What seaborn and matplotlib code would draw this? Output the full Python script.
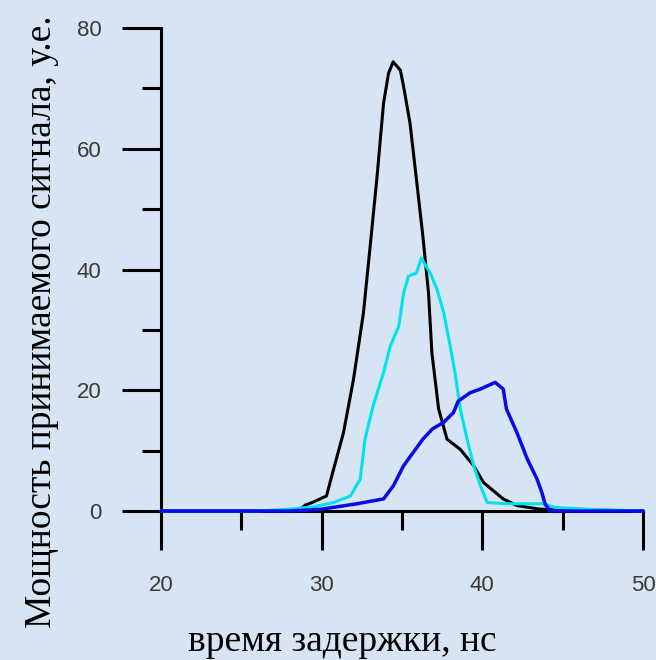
import numpy as np
import pandas as pd
import matplotlib
matplotlib.use('Agg')
import matplotlib.pyplot as plt
from matplotlib.ticker import MultipleLocator
import seaborn as sns

# Curves (time, ns -> received power, a.u.)
black_x = [20, 28.5, 29.0, 29.5, 30.3, 30.74, 31.36, 31.98, 32.6, 33.02, 33.43, 33.85,
           34.16, 34.45, 34.9, 35.1, 35.5, 35.9, 36.3, 36.65, 36.86, 37.28, 37.8, 38.63,
           39.46, 40.08, 41.3, 42.15, 43.6, 50]
black_y = [0, 0, 1.0, 1.5, 2.5, 6.9, 13, 21.8, 32.8, 43.9, 54.9, 67.5,
           72.5, 74.4, 73, 70.3, 64.2, 54.9, 45.5, 36.1, 26.2, 16.9, 11.9, 10.2,
           7.5, 4.7, 2, 0.9, 0.3, 0]

cyan_x = [20, 26.0, 28.0, 29.5, 30.74, 31.8, 32.4, 32.7, 33.2, 33.85, 34.27, 34.8, 35.1,
          35.4, 35.9, 36.2, 36.76, 37.18, 37.6, 38.0, 38.3, 38.63, 39.05, 39.46, 39.88,
          40.3, 41.5, 43.8, 44.5, 46.5, 50]
cyan_y = [0, 0, 0.3, 0.7, 1.4, 2.5, 5.3, 11.9, 17.4, 22.9, 27.3, 30.6, 36.1,
          38.9, 39.4, 41.9, 39.4, 36.7, 32.8, 27.3, 22.9, 16.9, 11.9, 7.5, 4.2,
          1.4, 1.2, 1.2, 0.6, 0.3, 0]

blue_x = [20, 28.0, 30.0, 32.2, 33.85, 34.47, 35.1, 35.7, 36.3, 36.9, 37.6, 38.2, 38.5,
          39.25, 39.88, 40.8, 41.3, 41.5, 42.15, 42.8, 43.4, 43.7, 43.9, 44.2, 50]
blue_y = [0, 0, 0.3, 1.2, 2, 4.2, 7.5, 9.7, 11.9, 13.6, 14.7, 16.3, 18.2,
          19.6, 20.2, 21.3, 20.2, 16.9, 13, 8.6, 5.3, 3.1, 1.2, 0, 0]

x_ticks = [20, 30, 40, 50]
y_ticks = [0, 20, 40, 60, 80]

bg = '#d6e4f3'
sns.set_theme(style='ticks')
plt.rcParams['font.family'] = ['Liberation Sans', 'DejaVu Sans']

fig = plt.figure(figsize=(6.56, 6.6), dpi=100, facecolor=bg)
ax = fig.add_axes([161 / 656, 149 / 660, 482 / 656, 483 / 660])
ax.set_facecolor('none')

series = [(black_x, black_y, 'black', 2.2),
          (cyan_x, cyan_y, '#00e3ec', 2.2),
          (blue_x, blue_y, '#0a0ae6', 2.5)]
for xs, ys, col, lw in series:
    d = pd.DataFrame({'t': xs, 'p': ys})
    sns.lineplot(data=d, x='t', y='p', ax=ax, color=col, linewidth=lw,
                 estimator=None, sort=False, clip_on=False, zorder=3)

ax.set_xlim(20, 50)
ax.set_ylim(0, 80)
ax.set_xticks(x_ticks)
ax.set_yticks(y_ticks)
ax.xaxis.set_minor_locator(MultipleLocator(5))
ax.yaxis.set_minor_locator(MultipleLocator(10))

for s in ['top', 'right']:
    ax.spines[s].set_visible(False)
for s in ['left', 'bottom']:
    ax.spines[s].set_linewidth(2.2)
    ax.spines[s].set_color('black')

ax.tick_params(which='major', direction='out', length=28, width=2.2, color='black',
               labelsize=16, labelcolor='#3a3a3a')
ax.tick_params(which='minor', direction='out', length=14, width=2.2, color='black')
ax.tick_params(axis='y', which='major', pad=15)
ax.tick_params(axis='x', which='major', pad=18)
ax.set_xlabel('')
ax.set_ylabel('')

fig.text(342 / 656, 1 - 642 / 660, 'время задержки, нс', ha='center', va='center',
         fontsize=27, family=['Liberation Serif', 'DejaVu Serif'], color='black')
fig.text(42 / 656, 1 - 322 / 660, 'Мощность принимаемого сигнала, у.е.', rotation=90,
         ha='center', va='center', fontsize=27,
         family=['Liberation Serif', 'DejaVu Serif'], color='black')

fig.savefig('out.png', dpi=100, facecolor=bg)
